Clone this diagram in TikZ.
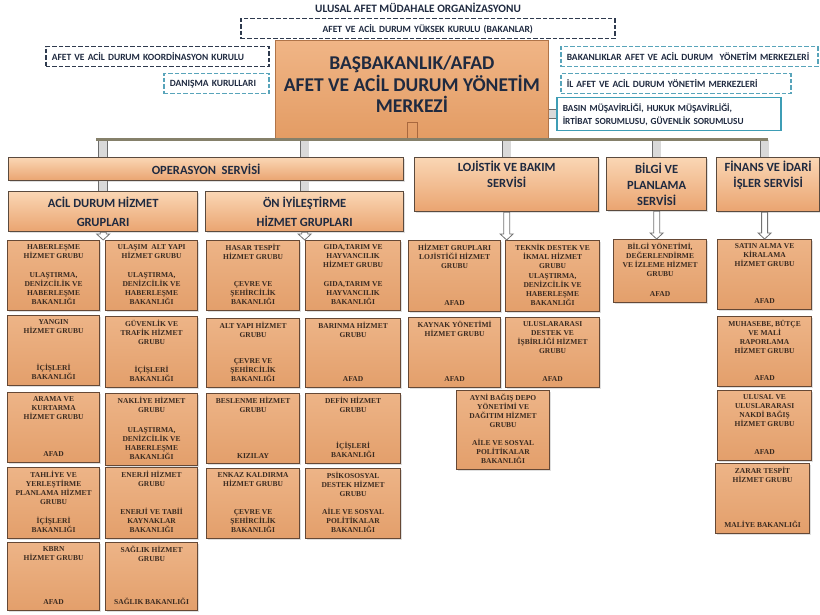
\documentclass[tikz,border=0pt]{standalone}
\usepackage{fontspec}
\setmainfont{Liberation Serif}
\newfontfamily\calibri{Carlito}
\usetikzlibrary{calc,shadows}

\definecolor{navyline}{HTML}{2E3A4E}
\definecolor{tealline}{HTML}{58A4BA}
\definecolor{basinline}{HTML}{3E9DB5}
\definecolor{headtext}{HTML}{1F2A40}
\definecolor{grptxt}{HTML}{3A2A20}
\definecolor{grptop}{HTML}{EDB487}
\definecolor{grpbot}{HTML}{E39F6B}
\definecolor{grpline}{HTML}{654835}
\definecolor{headtop}{HTML}{FAD6B4}
\definecolor{headbot}{HTML}{EAA470}
\definecolor{headline}{HTML}{5A4A3E}
\definecolor{barcol}{HTML}{85806A}
\definecolor{merkezline}{HTML}{B07448}
\definecolor{merkeztop}{HTML}{F0B586}
\definecolor{merkezbot}{HTML}{E39C64}
\definecolor{knobcol}{HTML}{A8683E}

\tikzset{
  merkezbox/.style={draw=merkezline, line width=0.8pt, top color=merkeztop, bottom color=merkezbot,
    anchor=north west, align=center, text=headtext, text depth=10pt,
    drop shadow={opacity=0.25, shadow xshift=1pt, shadow yshift=-1.5pt},
    font=\calibri\bfseries\fontsize{19.5}{21.5}\selectfont},
  dashbox/.style={draw=#1, line width=1.5pt, dash pattern=on 4.5pt off 2pt,
    anchor=north west, inner xsep=6pt, inner ysep=0pt, minimum height=20pt,
    text=headtext, align=left, font=\calibri\bfseries\fontsize{9.5}{11}\selectfont},
  headbox/.style={draw=headline, line width=1.3pt, top color=headtop, bottom color=headbot,
    anchor=north west, align=center, text=headtext,
    drop shadow={opacity=0.25, shadow xshift=1pt, shadow yshift=-1.5pt},
    font=\calibri\bfseries\fontsize{12.5}{16}\selectfont},
  grpbox/.style={draw=grpline, line width=1.2pt, top color=grptop, bottom color=grpbot,
    anchor=north west, inner sep=0pt,
    drop shadow={opacity=0.25, shadow xshift=1pt, shadow yshift=-1.5pt}},
  grptext/.style={align=center, text=grptxt, inner xsep=2pt,
    font=\bfseries\fontsize{7.5}{9}\selectfont},
  stub/.style={draw=gray!85!black, line width=0.8pt, double=gray!30, double distance=8pt},
  hollow/.style={draw=gray!90!black, fill=white, line width=0.8pt, line join=miter},
  bar/.style={draw=barcol, line width=3pt},
  knob/.style={draw=knobcol, line width=0.8pt}
}

% one service group cell: name, x, y, width, height, group, ministry
\newcommand{\grup}[7]{%
  \node[grpbox, minimum width=#4pt, minimum height=#5pt] (#1) at (#2,#3) {};
  \node[grptext, anchor=north, inner ysep=4pt] (#1-ad) at (#1.north) {#6};
  \node[grptext, anchor=south, inner ysep=6pt] (#1-kurum) at (#1.south) {#7};}

% white block arrow pointing down
\newcommand{\hollowarrow}[2]{%
  \draw[hollow] let \p1=(#1), \p2=(#2) in
    (\x1-3pt,\y1) -- (\x1-3pt,\y2+6pt) -- (\x1-6.5pt,\y2+6pt) -- (\x1,\y2)
    -- (\x1+6.5pt,\y2+6pt) -- (\x1+3pt,\y2+6pt) -- (\x1+3pt,\y1) -- cycle;}

\begin{document}
\begin{tikzpicture}[x=1pt,y=-1pt]
  \useasboundingbox (0,0) rectangle (820,615);

  % Title
  \node[text=headtext, font=\calibri\bfseries\fontsize{11.3}{13}\selectfont] (baslik) at (418,8)
    {ULUSAL AFET MÜDAHALE ORGANİZASYONU};

  % Boards round the centre
  \node[dashbox=navyline, text width=362pt, align=center] (yuksek) at (240,18)
    {AFET VE ACİL DURUM YÜKSEK KURULU (BAKANLAR)};
  \node[dashbox=navyline, text width=211pt] (koord) at (45,46) {AFET VE ACİL DURUM KOORDİNASYON KURULU};
  \node[dashbox=tealline, text width=93pt] (danisma) at (163,73) {DANIŞMA KURULLARI};
  \node[dashbox=tealline, text width=245pt] (bakanlik) at (560,46) {BAKANLIKLAR AFET VE ACİL DURUM\ \ YÖNETİM MERKEZLERİ};
  \node[dashbox=tealline, text width=218pt] (ilafet) at (560,73) {İL AFET VE ACİL DURUM YÖNETİM MERKEZLERİ};
  \node[dashbox=basinline, solid, text width=212pt, minimum height=33pt,
    font=\calibri\bfseries\fontsize{9.3}{13}\selectfont] (basin) at (556,97)
    {BASIN MÜŞAVİRLİĞİ, HUKUK MÜŞAVİRLİĞİ,\\İRTİBAT SORUMLUSU, GÜVENLİK SORUMLUSU};

  % Centre
  \node[merkezbox, minimum width=273pt, minimum height=98pt] (merkez) at (275,40)
    {BAŞBAKANLIK/AFAD\\AFET VE ACİL DURUM YÖNETİM\\MERKEZİ};
  \draw[knob] ([xshift=-5pt]merkez.south) rectangle ([xshift=5pt,yshift=16pt]merkez.south);
  \coordinate (bar-l) at (96,140);
  \coordinate (bar-r) at (768,140);

  % Services
  \node[headbox, minimum width=395pt, minimum height=23pt] (ops) at (8,157) {OPERASYON\ \ SERVİSİ};
  \node[headbox, minimum width=189pt, minimum height=40pt,
    font=\calibri\bfseries\fontsize{12.5}{19}\selectfont] (acil) at (8,191) {ACİL DURUM HİZMET\\GRUPLARI};
  \node[headbox, minimum width=198pt, minimum height=40pt,
    font=\calibri\bfseries\fontsize{12.5}{19}\selectfont] (oniy) at (205,191) {ÖN İYİLEŞTİRME\\HİZMET GRUPLARI};
  \node[headbox, minimum width=184pt, minimum height=53pt] (lojistik) at (414,157) {LOJİSTİK VE BAKIM\\SERVİSİ\\\strut};
  \node[headbox, minimum width=100pt, minimum height=53pt] (bilgi) at (606,157) {BİLGİ VE\\PLANLAMA\\SERVİSİ};
  \node[headbox, minimum width=103pt, minimum height=53pt] (finans) at (716,157) {FİNANS VE İDARİ\\İŞLER SERVİSİ\\\strut};

  % Acil durum groups
  \grup{hab}{7}{240}{92}{70}{HABERLEŞME\\HİZMET GRUBU}{ULAŞTIRMA,\\DENİZCİLİK VE\\HABERLEŞME\\BAKANLIĞI}
  \grup{yangin}{7}{315}{92}{70}{YANGIN\\HİZMET GRUBU}{İÇİŞLERİ\\BAKANLIĞI}
  \grup{arama}{7}{392}{92}{70}{ARAMA VE\\KURTARMA\\HİZMET GRUBU}{AFAD}
  \grup{tahliye}{7}{467}{92}{71}{TAHLİYE VE\\YERLEŞTİRME\\PLANLAMA HİZMET\\GRUBU}{İÇİŞLERİ\\BAKANLIĞI}
  \grup{kbrn}{7}{542}{92}{68}{KBRN\\HİZMET GRUBU}{AFAD}
  \grup{ulasim}{105}{240}{92}{70}{ULAŞIM\ \ ALT YAPI\\HİZMET GRUBU}{ULAŞTIRMA,\\DENİZCİLİK VE\\HABERLEŞME\\BAKANLIĞI}
  \grup{guvenlik}{105}{316}{92}{71}{GÜVENLİK VE\\TRAFİK HİZMET\\GRUBU}{İÇİŞLERİ\\BAKANLIĞI}
  \grup{nakliye}{105}{393}{92}{72}{NAKLİYE HİZMET\\GRUBU}{ULAŞTIRMA,\\DENİZCİLİK VE\\HABERLEŞME\\BAKANLIĞI}
  \grup{enerji}{105}{467}{92}{71}{ENERJİ HİZMET\\GRUBU}{ENERJİ VE TABİİ\\KAYNAKLAR\\BAKANLIĞI}
  \grup{saglik}{105}{542}{92}{68}{SAĞLIK HİZMET\\GRUBU}{SAĞLIK BAKANLIĞI}

  % On iyilestirme groups
  \grup{hasar}{206}{240}{93}{70}{HASAR TESPİT\\HİZMET GRUBU}{ÇEVRE VE\\ŞEHİRCİLİK\\BAKANLIĞI}
  \grup{altyapi}{206}{318}{93}{69}{ALT YAPI HİZMET\\GRUBU}{ÇEVRE VE\\ŞEHİRCİLİK\\BAKANLIĞI}
  \grup{beslenme}{206}{393}{93}{70}{BESLENME HİZMET\\GRUBU}{KIZILAY}
  \grup{enkaz}{206}{468}{93}{70}{ENKAZ KALDIRMA\\HİZMET GRUBU}{ÇEVRE VE\\ŞEHİRCİLİK\\BAKANLIĞI}
  \grup{gida}{305}{240}{95}{70}{GIDA,TARIM VE\\HAYVANCILIK\\HİZMET GRUBU}{GIDA,TARIM VE\\HAYVANCILIK\\BAKANLIĞI}
  \grup{barinma}{305}{318}{95}{69}{BARINMA HİZMET\\GRUBU}{AFAD}
  \grup{defin}{305}{393}{95}{70}{DEFİN HİZMET\\GRUBU}{İÇİŞLERİ\\BAKANLIĞI}
  \grup{psiko}{305}{468}{95}{70}{PSİKOSOSYAL\\DESTEK HİZMET\\GRUBU}{AİLE VE SOSYAL\\POLİTİKALAR\\BAKANLIĞI}

  % Lojistik groups
  \grup{lojgrup}{408}{240}{92}{71}{HİZMET GRUPLARI\\LOJİSTİĞİ HİZMET\\GRUBU}{AFAD}
  \grup{kaynak}{408}{317}{92}{70}{KAYNAK YÖNETİMİ\\HİZMET GRUBU}{AFAD}
  \grup{teknik}{505}{240}{94}{71}{TEKNİK DESTEK VE\\İKMAL HİZMET\\GRUBU}{ULAŞTIRMA,\\DENİZCİLİK VE\\HABERLEŞME\\BAKANLIĞI}
  \grup{uluslar}{505}{317}{94}{70}{ULUSLARARASI\\DESTEK VE\\İŞBİRLİĞİ HİZMET\\GRUBU}{AFAD}
  \grup{ayni}{456}{390}{93}{79}{AYNİ BAĞIŞ DEPO\\YÖNETİMİ VE\\DAĞITIM HİZMET\\GRUBU}{AİLE VE SOSYAL\\POLİTİKALAR\\BAKANLIĞI}

  % Bilgi and finans groups
  \grup{bilgiyon}{613}{239}{93}{63}{BİLGİ YÖNETİMİ,\\DEĞERLENDİRME\\VE İZLEME HİZMET\\GRUBU}{AFAD}
  \grup{satin}{717}{239}{94}{70}{SATIN ALMA VE\\KİRALAMA\\HİZMET GRUBU}{AFAD}
  \grup{muhasebe}{717}{316}{94}{70}{MUHASEBE, BÜTÇE\\VE MALİ\\RAPORLAMA\\HİZMET GRUBU}{AFAD}
  \grup{nakdi}{717}{390}{94}{70}{ULUSAL VE\\ULUSLARARASI\\NAKDİ BAĞIŞ\\HİZMET GRUBU}{AFAD}
  \grup{zarar}{715}{463}{94}{70}{ZARAR TESPİT\\HİZMET GRUBU}{MALİYE BAKANLIĞI}

  % Connectors
  \draw[stub] (acil.north |- bar-l) -- (acil.north |- ops.north);
  \draw[stub] (oniy.north |- bar-l) -- (oniy.north |- ops.north);
  \draw[stub] (acil.north |- ops.south) -- (acil.north);
  \draw[stub] (oniy.north |- ops.south) -- (oniy.north);
  \draw[stub] (lojistik.north |- bar-l) -- (lojistik.north);
  \draw[stub] (bilgi.north |- bar-l) -- (bilgi.north);
  \draw[stub] (satin.north |- bar-l) -- (satin.north |- finans.north);
  \draw[stub] (merkez.east |- basin.west) -- (basin.west);
  \draw[bar] (bar-l) -- (bar-r);

  \hollowarrow{acil.south}{acil.south |- hab.north}
  \hollowarrow{oniy.south}{oniy.south |- hasar.north}
  \hollowarrow{lojistik.south}{lojistik.south |- lojgrup.north}
  \hollowarrow{bilgi.south}{bilgi.south |- bilgiyon.north}
  \hollowarrow{finans.south -| satin.north}{satin.north}
\end{tikzpicture}
\end{document}
